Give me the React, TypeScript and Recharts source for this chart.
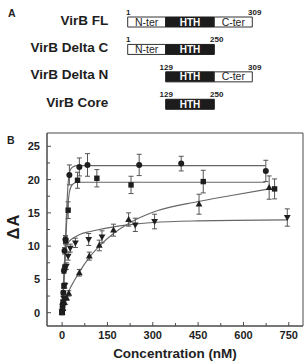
import {
  BarChart,
  Bar,
  ComposedChart,
  Scatter,
  Line,
  XAxis,
  YAxis,
  ErrorBar,
  LabelList,
  ReferenceArea,
  Label,
} from 'recharts';

// Panel A: VirB constructs (residue ranges)
const constructNames = ['VirB FL', 'VirB Delta C', 'VirB Delta N', 'VirB Core'];
const constructFirst = [1, 1, 129, 129];
const constructLast = [309, 250, 309, 250];

// Panel B: ΔA vs concentration (nM), one set per marker
const circleConc = [0, 2, 4, 6, 8, 11, 24, 57, 84, 255, 394, 674];
const circleDA = [0.1, 1.2, 3.0, 6.3, 9.3, 11.0, 20.7, 21.9, 22.2, 22.2, 22.4, 21.3];
const circleErr = [0.2, 0.3, 0.3, 0.4, 0.5, 0.6, 1.5, 1.35, 1.7, 1.6, 1.1, 1.6];

const squareConc = [0, 1, 3, 6, 9, 12, 20, 51, 115, 228, 467, 703];
const squareDA = [0, 0.6, 1.6, 4.0, 6.8, 10.8, 15.4, 19.9, 20.2, 19.2, 19.7, 18.6];
const squareErr = [0.2, 0.2, 0.3, 0.3, 0.4, 0.6, 1.25, 1.2, 1.3, 1.3, 1.7, 1.5];

const downConc = [0, 2, 5, 9, 14, 20, 27, 44, 88, 132, 242, 306, 745];
const downDA = [0.2, 1.0, 2.2, 4.1, 7.0, 8.5, 9.7, 10.5, 11.0, 11.4, 13.2, 13.7, 14.3];
const downErr = [0.2, 0.3, 0.3, 0.4, 0.5, 0.6, 0.6, 0.7, 0.9, 0.9, 1.0, 1.1, 1.3];

const upConc = [0, 3, 8, 15, 22, 57, 90, 123, 170, 220, 453, 685];
const upDA = [0, 0.6, 1.5, 2.2, 2.9, 6.0, 8.5, 10.1, 12.4, 14.0, 16.3, 18.8];
const upErr = [0.2, 0.2, 0.3, 0.3, 0.4, 0.5, 0.6, 0.8, 0.9, 1.0, 1.5, 1.75];

// fitted curves
const circleFitConc = [0, 5, 10, 15, 20, 25, 35, 50, 672];
const circleFitDA = [0, 4.5, 10, 15.5, 19.5, 21.2, 21.9, 22.1, 22.1];
const squareFitConc = [0, 5, 10, 15, 20, 25, 35, 50, 672];
const squareFitDA = [0, 3.5, 8.5, 13.5, 16.5, 18.3, 19.3, 19.6, 19.6];
const downFitConc = [0, 4, 8, 12, 16, 25, 40, 60, 93, 170, 220, 300, 450, 745];
const downFitDA = [0, 3.5, 6.8, 9.2, 10.2, 10.8, 11.3, 11.8, 12.2, 12.9, 13.2, 13.55, 13.8, 13.95];
const upFitConc = [0, 10, 22, 40, 57, 90, 123, 170, 220, 258, 300, 450, 560, 685];
const upFitDA = [0, 1.5, 3.2, 4.8, 6.1, 8.3, 10.0, 11.9, 13.4, 14.3, 15.1, 16.7, 17.6, 18.6];

const xTicks = [0, 75, 150, 225, 300, 375, 450, 525, 600, 675, 750];
const yTicks = [0, 2.5, 5, 7.5, 10, 12.5, 15, 17.5, 20, 22.5, 25];

const FONT = '"Liberation Sans", Arial, Helvetica, sans-serif';
const INK = '#1e1e1e';
const FRAME = '#4a4a4a';
const CURVE = '#666';

// schematic lengths of the domain boxes (figure is not to scale)
const NTER = 38;
const HTH = 48.6;
const CTER = 38;

const domainRows = constructNames.map((name, i) => {
  const hasN = constructFirst[i] === 1;
  const hasC = constructLast[i] === 309;
  return {
    name,
    lead: hasN ? 0 : NTER,
    nter: hasN ? NTER : 0,
    hth: HTH,
    cter: hasC ? CTER : 0,
    first: constructFirst[i],
    last: constructLast[i],
  };
});

const zip = (xs: number[], ys: number[], es?: number[]) =>
  xs.map((x, i) => ({ x, y: ys[i], e: es ? es[i] : 0 }));

const circlePts = zip(circleConc, circleDA, circleErr);
const squarePts = zip(squareConc, squareDA, squareErr);
const downPts = zip(downConc, downDA, downErr);
const upPts = zip(upConc, upDA, upErr);

function ConstructTick({ x, y, payload }: any) {
  return (
    <text x={x} y={y} dy={2.8} textAnchor="end" fontFamily={FONT} fontSize={13.5} fontWeight={700} fill={INK}>
      {payload.value}
    </text>
  );
}

// all text of one row, hung on the HTH box (present in every construct)
function renderDomainText(props: any) {
  const vb = props.viewBox ?? props;
  const { x, y, width, height } = vb;
  const row = domainRows[props.index];
  if (!row || x == null) return null;
  const unit = width / HTH;
  const nW = row.nter * unit;
  const cW = row.cter * unit;
  const mid = y + height / 2;
  const start = x - nW;
  const end = x + width + cW;
  return (
    <g fontFamily={FONT}>
      {row.nter > 0 && (
        <text x={x - nW / 2} y={mid} dy={3.6} textAnchor="middle" fontSize={10.5} fill={INK}>
          N-ter
        </text>
      )}
      <text x={x + width / 2} y={mid} dy={3.6} textAnchor="middle" fontSize={10} fontWeight={700} fill="#fff">
        HTH
      </text>
      {row.cter > 0 && (
        <text x={x + width + cW / 2} y={mid} dy={3.6} textAnchor="middle" fontSize={10.5} fill={INK}>
          C-ter
        </text>
      )}
      <text x={start + 0.5} y={y - 2} textAnchor="middle" fontSize={8} fontWeight={700} fill={INK}>
        {row.first}
      </text>
      <text x={end + 2.5} y={y - 2} textAnchor="middle" fontSize={8} fontWeight={700} fill={INK}>
        {row.last}
      </text>
    </g>
  );
}

const Y_MARGIN = 7;
function YTick({ x, y, payload }: any) {
  const major = payload.value % 5 === 0;
  const ax = x + Y_MARGIN;
  return (
    <g>
      <line x1={ax} x2={ax + (major ? 4 : 3)} y1={y} y2={y} stroke={FRAME} strokeWidth={1} />
      {major && (
        <text x={x} y={y} dy={4} textAnchor="end" fontFamily={FONT} fontSize={11} fontWeight={700} fill={INK}>
          {payload.value}
        </text>
      )}
    </g>
  );
}

const X_MARGIN = 4.5;
function XTick({ x, y, payload }: any) {
  const major = payload.value % 150 === 0;
  const ay = y - X_MARGIN;
  return (
    <g>
      <line x1={x} x2={x} y1={ay} y2={ay - (major ? 4 : 3)} stroke={FRAME} strokeWidth={1} />
      {major && (
        <text x={x} y={y} dy={8} textAnchor="middle" fontFamily={FONT} fontSize={11} fontWeight={700} fill={INK}>
          {payload.value}
        </text>
      )}
    </g>
  );
}

function renderDeltaA(props: any) {
  const vb = props.viewBox ?? {};
  const cx = (vb.x ?? 0) + 12.5;
  const cy = (vb.y ?? 0) + (vb.height ?? 0) / 2 - 3;
  return (
    <text
      x={cx}
      y={cy}
      transform={`rotate(-90 ${cx} ${cy})`}
      textAnchor="middle"
      dy={6}
      fontFamily={FONT}
      fontSize={16.5}
      fontWeight={700}
      letterSpacing={1}
      fill={INK}
    >
      ΔA
    </text>
  );
}

const marker = (kind: 'circle' | 'square' | 'down' | 'up') => (props: any) => {
  const { cx, cy } = props;
  if (cx == null || cy == null) return <g />;
  if (kind === 'circle') return <circle cx={cx} cy={cy} r={3} fill={INK} />;
  if (kind === 'square') return <rect x={cx - 2.7} y={cy - 2.7} width={5.4} height={5.4} fill={INK} />;
  const s = kind === 'up' ? 1 : -1;
  const pts = `${cx},${cy - 3.6 * s} ${cx - 3.4},${cy + 2.4 * s} ${cx + 3.4},${cy + 2.4 * s}`;
  return <polygon points={pts} fill={INK} />;
};

const errStyle = { stroke: '#555', strokeWidth: 1 };

export default function App() {
  return (
    <div style={{ position: 'relative', width: 308, height: 361, background: '#fff', fontFamily: FONT }}>
      <style>{'body{margin:0}'}</style>
      <svg width={308} height={361} style={{ position: 'absolute', left: 0, top: 0 }}>
        <text x={11.7} y={17.3} textAnchor="middle" fontFamily={FONT} fontSize={10.5} fontWeight={700} fill={INK}>
          A
        </text>
        <text x={10.7} y={144} textAnchor="middle" fontFamily={FONT} fontSize={10.5} fontWeight={700} fill={INK}>
          B
        </text>
      </svg>

      <div style={{ position: 'absolute', left: 0, top: 0 }}>
        <BarChart
          width={308}
          height={120}
          data={domainRows}
          layout="vertical"
          margin={{ top: 8, right: 55.7, bottom: 2.3, left: 0 }}
          barSize={10}
        >
          <XAxis type="number" hide domain={[0, NTER + HTH + CTER]} />
          <YAxis
            type="category"
            dataKey="name"
            width={127.7}
            axisLine={false}
            tickLine={false}
            tickSize={0}
            tickMargin={19.4}
            tick={<ConstructTick />}
            interval={0}
          />
          <Bar dataKey="lead" stackId="d" fill="transparent" isAnimationActive={false} />
          <Bar dataKey="nter" stackId="d" fill="#fff" stroke="#333" strokeWidth={1} isAnimationActive={false} />
          <Bar dataKey="hth" stackId="d" fill="#1c1c1c" stroke="#1c1c1c" strokeWidth={1} isAnimationActive={false}>
            <LabelList dataKey="hth" content={renderDomainText} />
          </Bar>
          <Bar dataKey="cter" stackId="d" fill="#fff" stroke="#333" strokeWidth={1} isAnimationActive={false} />
        </BarChart>
      </div>

      <div style={{ position: 'absolute', left: 0, top: 125 }}>
        <ComposedChart width={308} height={236} margin={{ top: 8, right: 5, bottom: 0, left: 0 }}>
          <XAxis
            type="number"
            dataKey="x"
            domain={[-50, 797]}
            ticks={xTicks}
            interval={0}
            allowDataOverflow
            height={35}
            tickSize={0}
            tickMargin={X_MARGIN}
            tick={<XTick />}
            axisLine={{ stroke: FRAME }}
          >
            <Label
              value="Concentration (nM)"
              position="insideBottom"
              offset={3}
              fontFamily={FONT}
              fontSize={13.5}
              fontWeight={700}
              fill={INK}
            />
          </XAxis>
          <YAxis
            type="number"
            dataKey="y"
            domain={[-2, 27]}
            ticks={yTicks}
            interval={0}
            allowDataOverflow
            width={47}
            tickSize={0}
            tickMargin={Y_MARGIN}
            tick={<YTick />}
            axisLine={{ stroke: FRAME }}
          >
            <Label position="insideLeft" content={renderDeltaA} />
          </YAxis>
          <ReferenceArea x1={-50} x2={797} y1={-2} y2={27} fill="none" stroke={FRAME} strokeWidth={1} />

          <Line data={zip(circleFitConc, circleFitDA)} dataKey="y" type="monotone" stroke={CURVE} strokeWidth={1.1} dot={false} isAnimationActive={false} />
          <Line data={zip(squareFitConc, squareFitDA)} dataKey="y" type="monotone" stroke={CURVE} strokeWidth={1.1} dot={false} isAnimationActive={false} />
          <Line data={zip(downFitConc, downFitDA)} dataKey="y" type="monotone" stroke={CURVE} strokeWidth={1.1} dot={false} isAnimationActive={false} />
          <Line data={zip(upFitConc, upFitDA)} dataKey="y" type="monotone" stroke={CURVE} strokeWidth={1.1} dot={false} isAnimationActive={false} />

          <Scatter data={circlePts} shape={marker('circle')} isAnimationActive={false}>
            <ErrorBar dataKey="e" direction="y" width={2.5} {...errStyle} />
          </Scatter>
          <Scatter data={squarePts} shape={marker('square')} isAnimationActive={false}>
            <ErrorBar dataKey="e" direction="y" width={2.5} {...errStyle} />
          </Scatter>
          <Scatter data={downPts} shape={marker('down')} isAnimationActive={false}>
            <ErrorBar dataKey="e" direction="y" width={2.5} {...errStyle} />
          </Scatter>
          <Scatter data={upPts} shape={marker('up')} isAnimationActive={false}>
            <ErrorBar dataKey="e" direction="y" width={2.5} {...errStyle} />
          </Scatter>
        </ComposedChart>
      </div>
    </div>
  );
}
